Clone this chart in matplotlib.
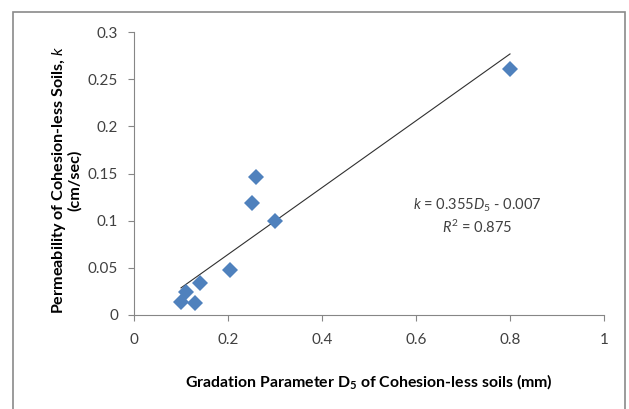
import matplotlib

matplotlib.use("Agg")
import matplotlib.pyplot as plt
import numpy as np
from matplotlib.patches import Rectangle

plt.rcParams["font.family"] = ["Lato", "DejaVu Sans"]
plt.rcParams["mathtext.fontset"] = "custom"
plt.rcParams["mathtext.rm"] = "Lato"
plt.rcParams["mathtext.it"] = "Lato:italic"
plt.rcParams["mathtext.bf"] = "Lato:bold"

# gradation parameter D5 (mm) vs permeability k (cm/sec)
d5 = [0.10, 0.11, 0.13, 0.14, 0.205, 0.25, 0.26, 0.30, 0.80]
k = [0.013, 0.024, 0.012, 0.034, 0.048, 0.119, 0.146, 0.100, 0.261]

# linear trendline k = 0.355*D5 - 0.007
slope, intercept = 0.355, -0.007
fit_x = [min(d5), max(d5)]

AXIS_GRAY = "#868686"
TEXT = "#404040"

fig = plt.figure(figsize=(6.29, 4.09), dpi=100)
fig.patches.append(Rectangle((13 / 629, -0.05), 612 / 629, 1.05 - 12 / 409,
                             transform=fig.transFigure, fill=False,
                             ec="#8a8a8a", lw=1.2))

ax = fig.add_axes([134 / 629, 1 - 314.7 / 409, 470 / 629, 282.4 / 409])
ax.plot(fit_x, [slope * x + intercept for x in fit_x], "-", color="#303030", lw=0.8)
ax.plot(d5, k, "D", color="#4F81BD", markersize=8, markeredgewidth=0)

ax.set_xlim(0, 1)
ax.set_ylim(0, 0.3)
ax.set_xticks(np.arange(0, 1.01, 0.2))
ax.set_xticklabels(["0", "0.2", "0.4", "0.6", "0.8", "1"])
ax.set_yticks(np.arange(0, 0.301, 0.05))
ax.set_yticklabels(["0", "0.05", "0.1", "0.15", "0.2", "0.25", "0.3"])

for side in ("top", "right"):
    ax.spines[side].set_visible(False)
for side in ("left", "bottom"):
    ax.spines[side].set_color(AXIS_GRAY)
    ax.spines[side].set_linewidth(0.8)
ax.tick_params(axis="both", colors=AXIS_GRAY, labelcolor=TEXT, labelsize=11,
               length=4.5, width=0.8, direction="out")
ax.tick_params(axis="x", pad=9)
ax.tick_params(axis="y", pad=7)

ax.text(0.73, 0.1165, r"$k$ = 0.355$D_{5}$ - 0.007", ha="center", va="center",
        fontsize=10.5, color=TEXT)
ax.text(0.73, 0.0925, r"$R^{2}$ = 0.875", ha="center", va="center",
        fontsize=10.5, color=TEXT)

fig.text(369 / 629, 1 - 382 / 409,
         r"Gradation Parameter D$_\mathbf{5}$ of Cohesion-less soils (mm)",
         ha="center", va="center", fontsize=11.4, fontweight="bold", color="black")
fig.text(66 / 629, 1 - 180 / 409,
         "Permeability of Cohesion-less Soils, " + r"$\mathit{k}$" + "\n(cm/sec)",
         ha="center", va="center", rotation=90, fontsize=11.6,
         fontweight="bold", color="black", linespacing=1.0)

fig.savefig("out.png", dpi=100)
